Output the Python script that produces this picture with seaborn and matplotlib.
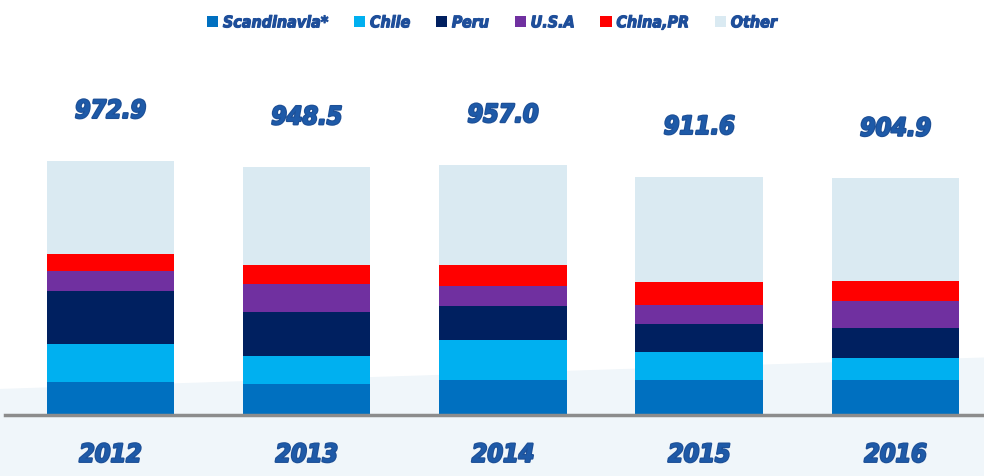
import numpy as np
import pandas as pd
import matplotlib
matplotlib.use("Agg")
import matplotlib.pyplot as plt
import matplotlib.patheffects as pe
import seaborn as sns

years = ["2012", "2013", "2014", "2015", "2016"]
totals = [972.9, 948.5, 957.0, 911.6, 904.9]
scandinavia = [128, 120, 136, 136, 134]
chile = [143, 106, 152, 107, 84]
peru = [205, 168, 128, 104, 115]
usa = [74, 109, 78, 72, 103]
china = [66, 69, 78, 89, 76]
other = [t - s - c - p - u - h for t, s, c, p, u, h in
         zip(totals, scandinavia, chile, peru, usa, china)]

series_names = ["Scandinavia*", "Chile", "Peru", "U.S.A", "China,PR", "Other"]
series_vals = [scandinavia, chile, peru, usa, china, other]
series_colors = ["#0070C0", "#00B0F0", "#002060", "#7030A0", "#FF0000", "#DAEAF2"]

sns.set_theme(style="white")
plt.rcParams["font.family"] = ["DejaVu Sans"]

heavy = dict(family="DejaVu Sans", fontweight="bold", fontstyle="italic",
             fontstretch="condensed")
label_blue = "#1E5AA8"
thick = [pe.withStroke(linewidth=1.6, foreground="#1D4F96")]

fig = plt.figure(figsize=(9.84, 4.76), dpi=100)
fig.patch.set_facecolor("white")

# soft pale band behind the lower part of the chart
band = fig.add_axes([0, 0, 1, 0.33], zorder=-5)
band.set_xlim(0, 1)
band.set_ylim(0, 1)
band.fill_between([0, 1], [0, 0], [0.55, 0.75], color="#F0F6FA")
band.axis("off")

ax = fig.add_axes([0.005, 0.128, 0.995, 0.75])
ax.patch.set_alpha(0)

# stacked bars: draw cumulative sums from the top layer down
cum = np.cumsum(np.array(series_vals, dtype=float), axis=0)
for i in range(len(series_names) - 1, -1, -1):
    df = pd.DataFrame({"year": years, "value": cum[i]})
    sns.barplot(data=df, x="year", y="value", color=series_colors[i],
                width=0.65, saturation=1, ax=ax, label=series_names[i],
                edgecolor="none", linewidth=0)

handles, labels = ax.get_legend_handles_labels()
if ax.get_legend() is not None:
    ax.get_legend().remove()

ax.set_xlim(-0.5376, 4.451)
ax.set_ylim(0, 1365)
ax.set_xlabel("")
ax.set_ylabel("")
ax.set_yticks([])
for side in ["left", "right", "top"]:
    ax.spines[side].set_visible(False)
ax.spines["bottom"].set_color("#8C8C8C")
ax.spines["bottom"].set_linewidth(2.5)
ax.tick_params(axis="x", length=0, pad=20)
ax.set_xticks(range(len(years)))
ax.set_xticklabels(years, fontsize=18, color=label_blue, **heavy)
for lab in ax.get_xticklabels():
    lab.set_path_effects(thick)

for i, t in enumerate(totals):
    ax.text(i, t + 190, f"{t:.1f}", ha="center", va="center",
            fontsize=18, color=label_blue, path_effects=thick, **heavy)

order = [labels.index(n) for n in series_names]
leg = fig.legend([handles[k] for k in order], [labels[k] for k in order],
                 loc="center", bbox_to_anchor=(0.5, 0.952), ncol=6,
                 frameon=False, handlelength=0.7, handleheight=0.7,
                 handletextpad=0.3, columnspacing=1.6,
                 prop={"size": 11.5, "weight": "bold", "style": "italic",
                       "stretch": "condensed", "family": "DejaVu Sans"})
for txt in leg.get_texts():
    txt.set_color("#1E4E9A")
    txt.set_path_effects([pe.withStroke(linewidth=0.8, foreground="#1E4E9A")])

fig.savefig("out.png", dpi=100)
